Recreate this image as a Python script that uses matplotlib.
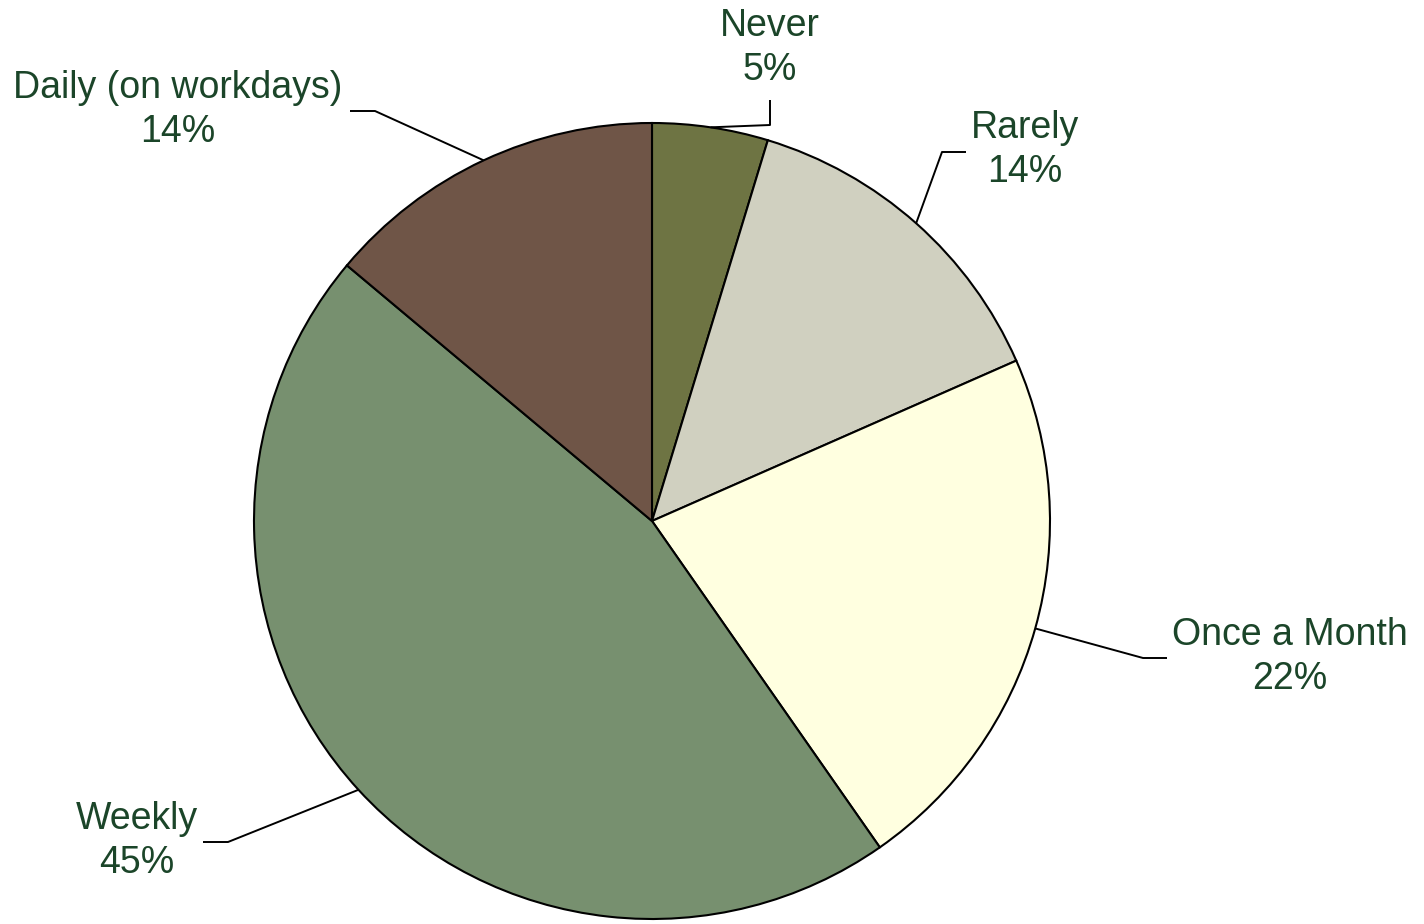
import numpy as np
import matplotlib
matplotlib.use("Agg")
import matplotlib.pyplot as plt

categories = ["Never", "Rarely", "Once a Month", "Weekly", "Daily (on workdays)"]
shares = [4.7, 13.7, 21.9, 45.8, 13.9]
# percentages as printed on the labels
label_pcts = [5, 14, 22, 45, 14]
colors = ["#6e7443", "#d0d0c0", "#ffffe0", "#77906f", "#6f5547"]

plt.rcParams['font.family'] = ['Liberation Sans', 'DejaVu Sans']
W, H = 1424, 924
fig = plt.figure(figsize=(W / 100, H / 100), dpi=100)
ax = fig.add_axes([0, 0, 1, 1])

cx, cy, R = 652, H - 521, 398
wedges, _ = ax.pie(shares, colors=colors, startangle=90, counterclock=False,
                   center=(cx, cy), radius=R, frame=True,
                   wedgeprops=dict(edgecolor='black', linewidth=1.5))
ax.set_xlim(0, W)
ax.set_ylim(0, H)
ax.set_aspect('equal')
ax.axis('off')

# label layout (pixel coords, y from top): elbow point, end point, text center
layout = [
    ((770, 125), (770, 100), (770, 48)),
    ((942, 152), (966, 152), (1025, 150)),
    ((1143, 658), (1167, 658), (1290, 657)),
    ((228, 842), (203, 842), (137, 841)),
    ((375, 111), (350, 111), (178, 110)),
]
txt_color = "#1b4529"
for w, cat, pct, (elb, end, tc) in zip(wedges, categories, label_pcts, layout):
    ang = np.deg2rad((w.theta1 + w.theta2) / 2)
    sx, sy = cx + R * np.cos(ang), cy + R * np.sin(ang)
    ax.plot([sx, elb[0], end[0]], [sy, H - elb[1], H - end[1]],
            color='black', linewidth=1.4, solid_capstyle='butt')
    ax.text(tc[0], H - tc[1], f"{cat}\n{pct}%", ha='center', va='center',
            fontsize=27, color=txt_color, linespacing=1.3)

fig.savefig("out.png", dpi=100, facecolor='white')
